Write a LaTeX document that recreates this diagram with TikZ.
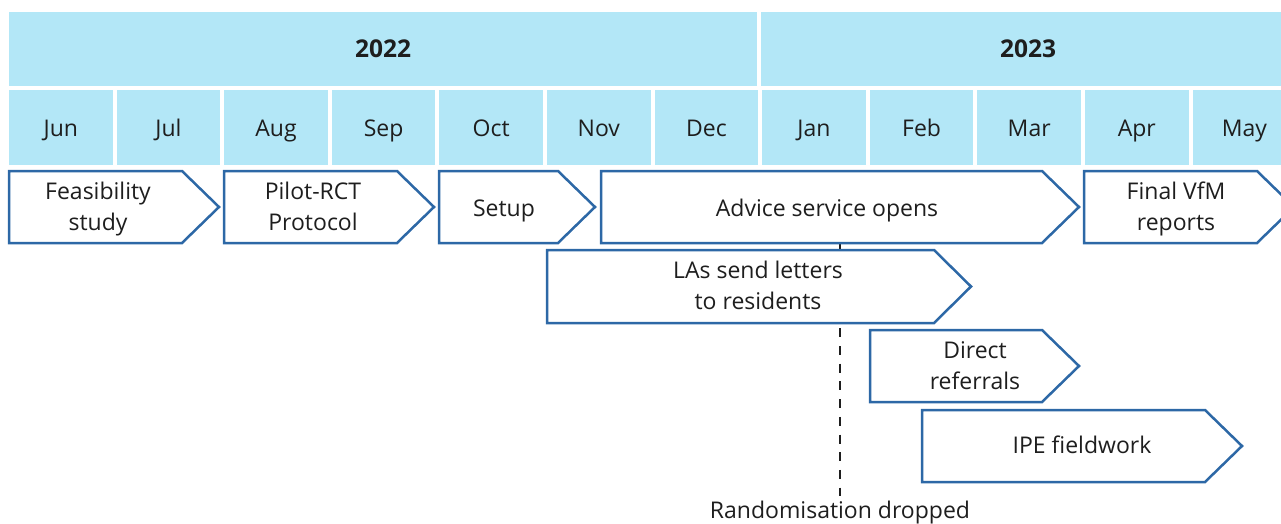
\documentclass[tikz,border=0pt]{standalone}
\usepackage{fontspec}
\setmainfont{Open Sans}
\definecolor{band}{HTML}{B3E7F7}
\definecolor{edge}{HTML}{2D68A6}
\definecolor{ink}{HTML}{1E1E1E}
\newcommand\chevpath[4]{%
  (#1,#2) -- ({#3-37},#2) -- (#3,{(#2+#4)/2}) -- ({#3-37},#4) -- (#1,#4) -- cycle}
\newcommand\sline[1]{\strut#1}
\begin{document}
\begin{tikzpicture}[x=1pt,y=-1pt,
  lbl/.style={font=\fontsize{23}{31}\selectfont, text=ink, align=center, inner sep=0pt},
  yr/.style={font=\fontsize{24.5}{31}\selectfont\bfseries, text=ink, inner sep=0pt, anchor=base},
  chev/.style={draw=edge, line width=2.5pt, fill=white, line join=miter},
  rnd/.style={draw=ink, line width=2.4pt, dash pattern=on 9pt off 8.7pt, dash phase=3.2pt}]
\useasboundingbox (0,0) rectangle (1281,524);
\clip (0,0) rectangle (1281,524);
% year band
\fill[band] (9,12) rectangle (757,86);
\fill[band] (761,12) rectangle (1295,86);
\node[yr] (y22) at (383,57.3) {2022};
\node[yr] (y23) at (1028,57.3) {2023};
% months
\foreach \m [count=\i from 0] in {Jun,Jul,Aug,Sep,Oct,Nov,Dec,Jan,Feb,Mar,Apr,May} {
  \fill[band] ({9+107.6*\i},90) rectangle ({112.6+107.6*\i},165);
  \node[lbl, anchor=base] (m\i) at ({60.8+107.6*\i},136.7) {\m};
}
% dashed marker
\coordinate (advb) at (840,243);
\node[lbl, anchor=base] (rnd) at (840,518) {Randomisation dropped};
\draw[rnd] (advb) -- (840,496) coordinate (rndtop);
% chevrons
\draw[chev] \chevpath{9}{171}{219}{243};
\node[lbl] (feas) at (98,208.3) {\sline{Feasibility}\\\sline{study}};
\draw[chev] \chevpath{224}{171}{434}{243};
\node[lbl] (pilot) at (313,208.3) {\sline{Pilot-RCT}\\\sline{Protocol}};
\draw[chev] \chevpath{439}{171}{595}{243};
\node[lbl, anchor=base] (setup) at (504,216) {Setup};
\draw[chev] \chevpath{601}{171}{1079}{243};
\node[lbl, anchor=base] (adv) at (827,216) {Advice service opens};
\draw[chev] \chevpath{1084}{171}{1294}{243};
\node[lbl] (vfm) at (1176,208.3) {\sline{Final VfM}\\\sline{reports}};
\draw[chev] \chevpath{547}{250}{971}{323};
\node[lbl] (las) at (758,287.3) {\sline{LAs send letters}\\\sline{to residents}};
\draw[chev] \chevpath{870}{330}{1079}{402};
\node[lbl] (dir) at (975,367.3) {\sline{Direct}\\\sline{referrals}};
\draw[chev] \chevpath{922}{410}{1242}{482};
\node[lbl, anchor=base] (ipe) at (1082,453.5) {IPE fieldwork};
\end{tikzpicture}
\end{document}
